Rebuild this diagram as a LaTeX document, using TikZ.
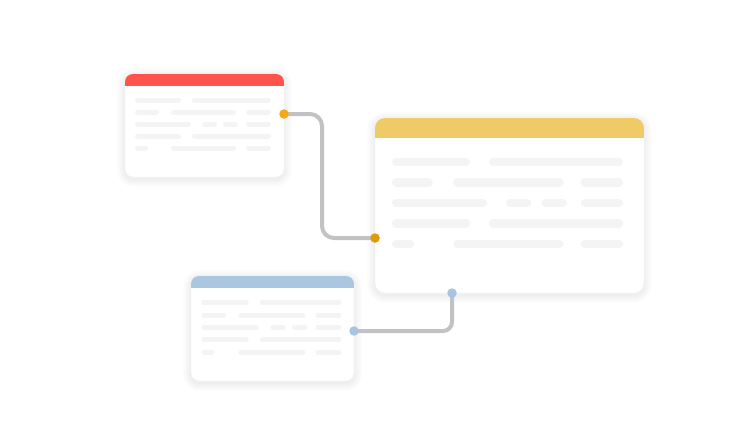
\documentclass[tikz,border=0pt]{standalone}
\usetikzlibrary{calc}
\definecolor{hdred}{HTML}{FF534C}
\definecolor{hdyellow}{HTML}{EECB66}
\definecolor{hdblue}{HTML}{ABC6E0}
\definecolor{linegray}{HTML}{F4F4F4}
\definecolor{conngray}{HTML}{C2C2C2}
\definecolor{dotorange}{HTML}{F5A816}
\definecolor{dotdark}{HTML}{E19A06}
\definecolor{dotblue}{HTML}{A9C4E0}
\tikzset{
  card/.style={fill=white, draw=black!5, line width=0.4pt, inner sep=0pt, outer sep=0pt, rectangle},
  cline/.style={draw=linegray, line cap=round},
  conn/.style={draw=conngray, line width=4pt},
  portdot/.style={circle, fill=#1, draw=none, minimum size=9.5pt, inner sep=0pt},
}
% #1 name, #2 x, #3 y, #4 w, #5 h, #6 scale, #7 header colour, #8 radius
\newcommand\mkcard[8]{%
  \foreach \i in {1,...,8}{%
    \pgfmathsetmacro\rr{#8+\i}%
    \fill[black, opacity=0.009, rounded corners=\rr pt]
      ({#2-\i},{#3-\i+2}) rectangle ({#2+#4+\i},{#3+#5+\i+2});
  }
  \node[card, minimum width=#4pt, minimum height=#5pt, rounded corners=#8pt, anchor=north west] (#1) at (#2,#3) {};
  \begin{scope}
    \clip[rounded corners=#8pt] (#1.north west) rectangle (#1.south east);
    \fill[#7] (#1.north west) rectangle ($(#1.north east)+(0,{12*#6})$);
  \end{scope}
  \pgfmathsetmacro\lw{5*#6}%
  \begin{scope}[shift={(#1.north west)}, x=#6pt, y=-#6pt]
    \foreach \ya/\xa/\xb in {26/10/56, 26/67/146,
        38/10/34, 38/46/111, 38/121/146,
        50/10/66, 50/77/92, 50/98/113, 50/121/146,
        62/10/56, 62/67/146,
        74/10/23, 74/46/111, 74/121/146}{%
      \draw[cline, line width=\lw pt] ({\xa+2.5},\ya) -- ({\xb-2.5},\ya);
    }
  \end{scope}
}
\begin{document}
\begin{tikzpicture}[x=1pt, y=-1pt]
  \fill[white] (0,0) rectangle (750,423);
  \useasboundingbox (0,0) rectangle (750,423);

  \mkcard{red}{125}{74}{159}{103}{1}{hdred}{8}
  \mkcard{yellow}{375}{118}{269}{175}{1.7}{hdyellow}{10}
  \mkcard{blue}{191}{276}{163}{105}{1.03}{hdblue}{8}

  \coordinate (redport) at ($(red.north east)+(0,40)$);
  \coordinate (yellowleft) at ($(yellow.north west)+(0,120)$);
  \coordinate (yellowbottom) at ($(yellow.south west)+(77,0)$);
  \coordinate (blueport) at ($(blue.north east)+(0,55)$);

  \draw[conn, rounded corners=12pt] (redport) -- ++(38,0) |- (yellowleft);
  \draw[conn, rounded corners=9pt] (blueport) -| (yellowbottom);

  \node[portdot=dotorange] (redportdot) at (redport) {};
  \node[portdot=dotdark] (yellowleftdot) at (yellowleft) {};
  \node[portdot=dotblue] (yellowbottomdot) at (yellowbottom) {};
  \node[portdot=dotblue] (blueportdot) at (blueport) {};
\end{tikzpicture}
\end{document}
